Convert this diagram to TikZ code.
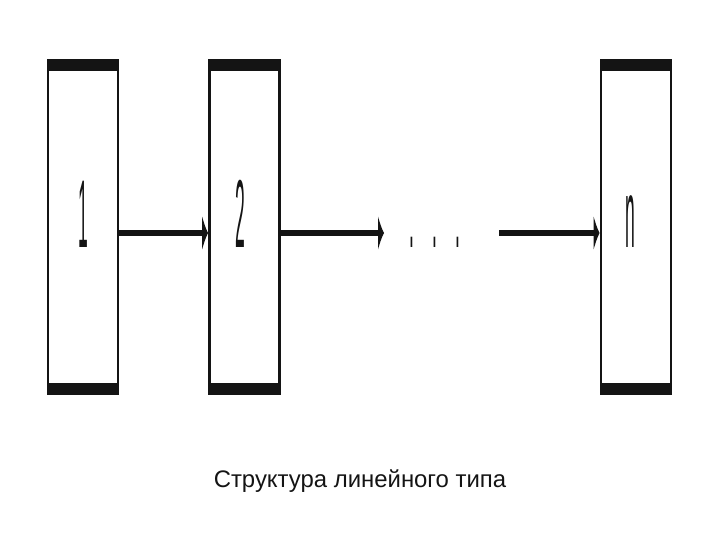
\documentclass[tikz,border=0pt]{standalone}
\usepackage{fontspec}
\setmainfont{Liberation Sans}
\usepackage{graphicx}
\usetikzlibrary{arrows.meta}
\definecolor{darktext}{HTML}{141414}

\newcommand{\tallglyph}[1]{\scalebox{0.8}[4.4]{\fontsize{22}{24}\selectfont #1}}

\begin{document}
\begin{tikzpicture}[x=1bp, y=-1bp,
    stage/.style={draw=darktext, line width=2.8bp, minimum width=70bp, minimum height=334bp, inner sep=0pt},
    label/.style={anchor=base, inner sep=0pt, darktext},
    link/.style={line width=5.5bp, darktext, -{Latex[length=6bp, width=36bp]}}]
    \useasboundingbox (0,0) rectangle (720,540);
    % boxes
    \node[stage] (b1) at (83,227) {};
    \node[stage] (b2) at (244.5,227) {};
    \node[stage] (bn) at (636,227) {};
    \foreach \b in {b1,b2,bn} {
        \fill[darktext] (\b.north west) rectangle ([yshift=-12bp]\b.north east);
        \fill[darktext] (\b.south west) rectangle ([yshift=12bp]\b.south east);
    }
    % labels
    \node[label] (l1) at (83,248) {\tallglyph{1}};
    \node[label] (l2) at (240,248) {\tallglyph{2}};
    \node[label] (ln) at (630,248) {\tallglyph{n}};
    \node[label] (dots) at (435,248) {\tallglyph{.\hspace{23bp}.\hspace{23bp}.}};
    % arrows
    \coordinate (gapl) at (384,233);
    \coordinate (gapr) at (499,233);
    \draw[link] (b1.east |- gapl) -- (b2.west |- gapl);
    \draw[link] (b2.east |- gapl) -- (gapl);
    \draw[link] (gapr) -- (bn.west |- gapr);
    \node[darktext, font=\fontsize{24}{28}\selectfont] (cap) at (360,481) {Структура линейного типа};
\end{tikzpicture}
\end{document}
